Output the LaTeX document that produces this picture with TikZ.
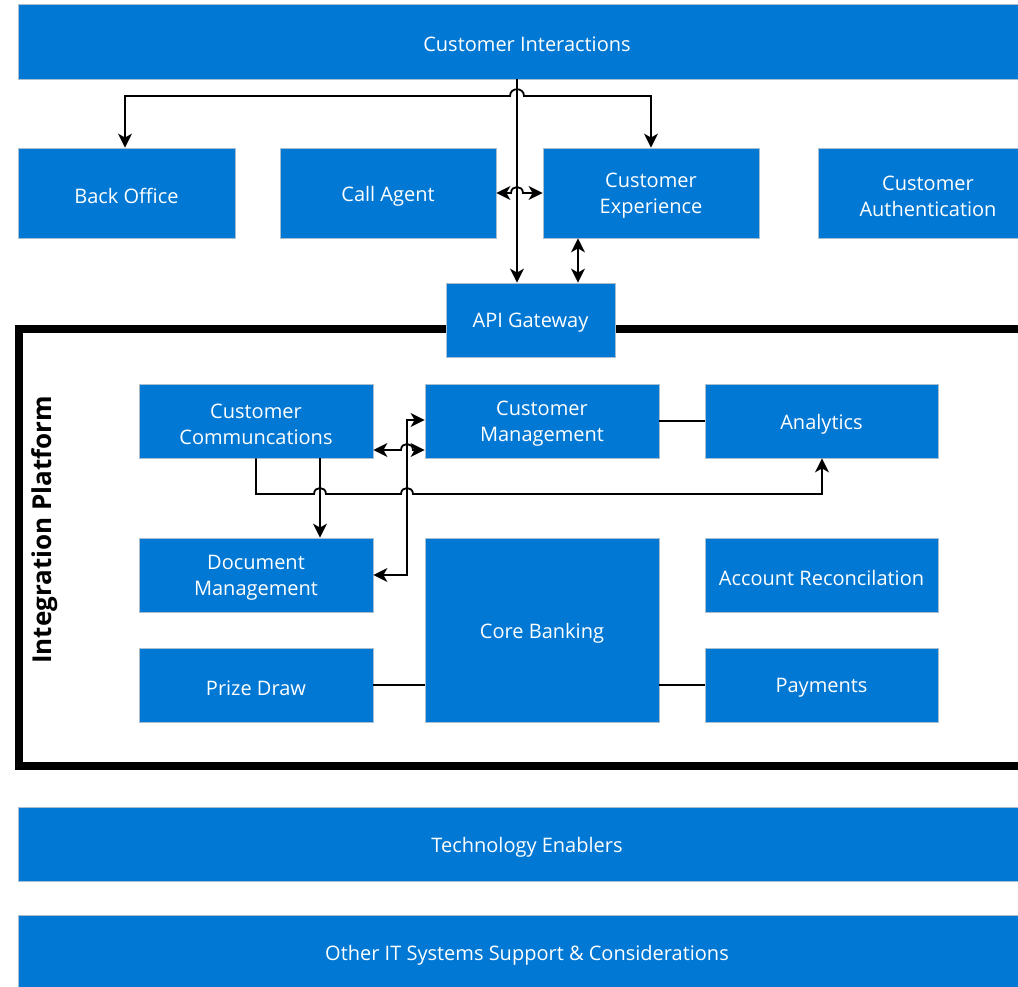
\documentclass[tikz,border=0pt]{standalone}
\usepackage{fontspec}
\setmainfont{Open Sans}
\usetikzlibrary{arrows.meta}
\definecolor{boxblue}{RGB}{0,120,212}
\definecolor{boxedge}{RGB}{170,190,210}
\begin{document}
\begin{tikzpicture}[x=1pt,y=-1pt,
  blk/.style={fill=boxblue,draw=boxedge,line width=0.8pt,inner sep=0pt},
  blktext/.style={text=white,align=center,inner sep=0pt,yshift=-3pt,
    font=\fontsize{20}{26}\selectfont},
  link/.style={line width=1.8pt,black},
  arr/.style={link,-{Stealth[length=14pt,width=14pt,inset=4pt]}},
  biarr/.style={link,{Stealth[length=14pt,width=14pt,inset=4pt]}-{Stealth[length=14pt,width=14pt,inset=4pt]}}]
\useasboundingbox (0,0) rectangle (1018,987);
\clip (0,0) rectangle (1018,987);
\fill[white] (0,0) rectangle (1018,987);
% helper: box by corners, with its label set slightly below centre
\newcommand{\blkbox}[6]{%
  \node[blk,minimum width={#4-#2},minimum height={#5-#3}] (#1) at ({(#2+#4)/2},{(#3+#5)/2}) {};
  \node[blktext] (#1-t) at (#1.center) {#6};}

% platform frame
\draw[line width=8pt] (1060,329) -- (19,329) -- (19,765.5) -- (1060,765.5);
\node[rotate=90,font=\fontsize{26}{30}\selectfont\bfseries] (ip) at (45,530) {Integration Platform};

% top layer
\blkbox{ci}{18}{4}{1036}{79}{Customer Interactions}
\blkbox{bo}{18}{148}{235}{238}{Back Office}
\blkbox{ca}{280}{148}{496}{238}{Call Agent}
\blkbox{cx}{543}{148}{759}{238}{Customer\\Experience}
\blkbox{au}{818}{148}{1038}{238}{Customer\\Authentication}
\blkbox{api}{446}{283}{615}{357}{API Gateway}

% platform services
\blkbox{cc}{139}{384}{373}{458}{Customer\\Communcations}
\blkbox{cm}{425}{384}{659}{458}{Customer\\Management}
\blkbox{an}{705}{384}{938}{458}{Analytics}
\blkbox{dm}{139}{538}{373}{612}{Document\\Management}
\blkbox{cb}{425}{538}{659}{722}{Core Banking}
\blkbox{ar}{705}{538}{938}{612}{Account Reconcilation}
\blkbox{pd}{139}{648}{373}{722}{Prize Draw}
\blkbox{pay}{705}{648}{938}{722}{Payments}

% lower layers
\blkbox{te}{18}{807}{1036}{881}{Technology Enablers}
\blkbox{ot}{18}{915}{1036}{990}{Other IT Systems Support \& Considerations}

% connectors
\draw[arr] (ci.south -| 517,0) -- (api.north -| 517,0);
\draw[biarr] (bo.north -| 125,0) -- (125,96) -- (510,96)
  .. controls (510,87) and (524,87) .. (524,96) -- (651,96) -- (cx.north -| 651,0);
\draw[biarr] (ca.east) -- (511,193)
  .. controls (511,185) and (523,185) .. (523,193) -- (cx.west);
\draw[biarr] (cx.south -| 578,0) -- (api.north -| 578,0);

\draw[biarr] (cm.west |- 0,450) -- (413,450)
  .. controls (413,442) and (401,442) .. (401,450) -- (cc.east |- 0,450);
\draw[biarr] (cm.west |- 0,420) -- (407,420) -- (407,575) -- (dm.east |- 0,575);
\draw[arr] (cc.south -| 256,0) -- (256,494) -- (314,494)
  .. controls (314,486) and (326,486) .. (326,494) -- (401,494)
  .. controls (401,486) and (413,486) .. (413,494) -- (822,494) -- (an.south -| 822,0);
\draw[arr] (cc.south -| 320,0) -- (dm.north -| 320,0);
\draw[link] (cm.east) -- (an.west);
\draw[link] (pd.east) -- (cb.west |- pd.east);
\draw[link] (cb.east |- pay.west) -- (pay.west);
\end{tikzpicture}
\end{document}
